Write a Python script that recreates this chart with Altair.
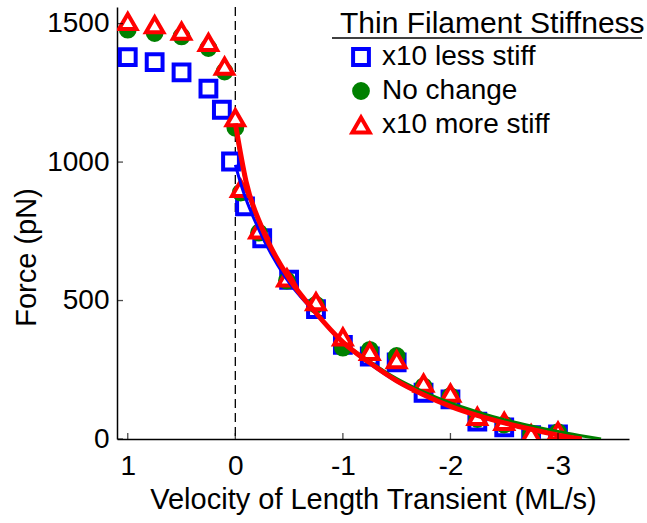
import altair as alt
import pandas as pd

# ---------------- data ----------------
series_names = ["x10 less stiff", "No change", "x10 more stiff"]
series_colors = ["#0000ff", "#008000", "#ff0000"]
series_fills = ["white", "#008000", "white"]
series_shapes = ["square", "circle", "triangle-up"]
series_sizes = [250, 190, 300]

less_x = [1.0, 0.75, 0.5, 0.25, 0.125, 0.04, -0.09, -0.25, -0.5, -0.75, -1.0, -1.25, -1.5, -1.75, -2.0, -2.25, -2.5, -2.75, -3.0]
less_f = [1379, 1361, 1324, 1265, 1189, 1002, 840, 725, 575, 469, 340, 298, 277, 167, 143, 63, 42, 14, 17]

none_x = [1.0, 0.75, 0.5, 0.25, 0.1, 0.0, -0.05, -0.22, -0.48, -0.75, -1.0, -1.25, -1.5, -1.75, -2.0, -2.25, -2.5, -2.75, -3.0]
none_f = [1478, 1466, 1454, 1412, 1327, 1124, 890, 745, 572, 485, 330, 322, 300, 190, 155, 72, 52, 18, 25]

more_x = [1.0, 0.75, 0.5, 0.25, 0.1, 0.0, -0.05, -0.22, -0.48, -0.75, -1.0, -1.25, -1.5, -1.75, -2.0, -2.25, -2.5, -2.75, -3.0]
more_f = [1508, 1496, 1472, 1432, 1346, 1160, 905, 755, 581, 496, 368, 316, 286, 201, 165, 81, 63, 18, 28]

# fitted curves
fit_less_x = [0.0, -0.06, -0.22, -0.46, -0.75, -1.0, -1.25, -1.5, -1.75, -2.0, -2.25, -2.5, -2.75, -3.0, -3.22]
fit_less_f = [990, 910, 755, 587, 452, 347, 272, 208, 158, 117, 84, 57, 34, 13, 0]

fit_none_x = [0.0, -0.1, -0.25, -0.5, -0.75, -1.0, -1.25, -1.5, -1.75, -2.0, -2.25, -2.5, -2.75, -3.0, -3.2, -3.4]
fit_none_f = [1125, 920, 755, 578, 455, 352, 280, 218, 170, 130, 98, 70, 47, 27, 13, 0]

fit_more_x = [0.0, -0.1, -0.25, -0.5, -0.75, -1.0, -1.25, -1.5, -1.75, -2.0, -2.25, -2.5, -2.75, -3.0, -3.22]
fit_more_f = [1140, 930, 760, 580, 455, 350, 275, 210, 160, 118, 85, 58, 35, 14, 0]

x_ticks = [1, 0, -1, -2, -3]
y_ticks = [0, 500, 1000, 1500]
x_domain = [1.1, -3.66]
y_domain = [0, 1560]

FONT = "Liberation Sans"

# ---------------- tables ----------------
pts = pd.concat([
    pd.DataFrame({"v": less_x, "F": less_f, "series": series_names[0]}),
    pd.DataFrame({"v": none_x, "F": none_f, "series": series_names[1]}),
    pd.DataFrame({"v": more_x, "F": more_f, "series": series_names[2]}),
], ignore_index=True)

xs = alt.Scale(domain=x_domain, nice=False, zero=False)
ys = alt.Scale(domain=y_domain, nice=False, zero=False)

X = alt.X("v:Q", scale=xs,
          axis=alt.Axis(values=x_ticks, labelExpr="'' + datum.value",
                        title="Velocity of Length Transient (ML/s)"))
Y = alt.Y("F:Q", scale=ys,
          axis=alt.Axis(values=y_ticks, format="d", title="Force (pN)", titleY=250))

leg_title = "Thin Filament Stiffness"

zero_line = alt.Chart(pd.DataFrame({"v": [0]})).mark_rule(
    color="black", strokeWidth=1.3, strokeDash=[9, 5]
).encode(x=alt.X("v:Q", scale=xs))

points = alt.Chart(pts).mark_point(strokeWidth=4, opacity=1, clip=True).encode(
    x=X, y=Y,
    stroke=alt.Stroke("series:N", scale=alt.Scale(domain=series_names, range=series_colors),
                      legend=alt.Legend(title=leg_title)),
    fill=alt.Fill("series:N", scale=alt.Scale(domain=series_names, range=series_fills),
                  legend=alt.Legend(title=leg_title)),
    shape=alt.Shape("series:N", scale=alt.Scale(domain=series_names, range=series_shapes),
                    legend=alt.Legend(title=leg_title)),
    size=alt.Size("series:N", scale=alt.Scale(type="ordinal", domain=series_names, range=series_sizes),
                  legend=alt.Legend(title=leg_title)),
)

def fit_line(xv, fv, color, width):
    return alt.Chart(pd.DataFrame({"v": xv, "F": fv})).mark_line(
        color=color, strokeWidth=width, interpolate="monotone", clip=True
    ).encode(x=alt.X("v:Q", scale=xs), y=alt.Y("F:Q", scale=ys))

line_less = fit_line(fit_less_x, fit_less_f, "#0000ff", 3)
line_none = fit_line(fit_none_x, fit_none_f, "#008000", 3)
line_more = fit_line(fit_more_x, fit_more_f, "#ff0000", 5)

xtick_marks = alt.Chart(pd.DataFrame({"v": x_ticks, "F": [y_domain[0]] * len(x_ticks)})).mark_tick(
    orient="vertical", size=12, thickness=1.3, color="black", clip=True
).encode(x=alt.X("v:Q", scale=xs), y=alt.Y("F:Q", scale=ys))

ytick_marks = alt.Chart(pd.DataFrame({"v": [x_domain[0]] * len(y_ticks), "F": y_ticks})).mark_tick(
    orient="horizontal", size=12, thickness=1.3, color="black", clip=True
).encode(x=alt.X("v:Q", scale=xs), y=alt.Y("F:Q", scale=ys))

underline = alt.Chart(pd.DataFrame({"a": [0]})).mark_rule(color="black", strokeWidth=1.5).encode(
    x=alt.value(215), x2=alt.value(525), y=alt.value(31)
)

chart = alt.layer(
    zero_line, points, line_less, line_none, line_more, xtick_marks, ytick_marks, underline
).properties(
    width=512, height=432,
    autosize=alt.AutoSizeParams(type="none"),
    padding={"left": 117, "top": 7, "right": 18, "bottom": 84},
).configure_view(
    stroke=None
).configure_axis(
    grid=False, ticks=False, domainColor="black", domainWidth=1.5,
    labelFont=FONT, titleFont=FONT, labelFontSize=28, titleFontSize=29,
    labelColor="black", titleColor="black", titleFontWeight="normal",
    labelPadding=8, titlePadding=5,
).configure_axisX(
    labelPadding=13, titlePadding=5,
).configure_legend(
    orient="none", legendX=223, legendY=2, padding=0,
    titleFont=FONT, titleFontSize=30, titleFontWeight="normal", titleColor="black",
    titleLimit=500, labelLimit=400,
    labelFont=FONT, labelFontSize=28, labelColor="black",
    titlePadding=4, rowPadding=3, symbolStrokeWidth=4, symbolOffset=7, labelOffset=7,
)

chart.save("out.html", embed_options={"renderer": "svg", "actions": False})
